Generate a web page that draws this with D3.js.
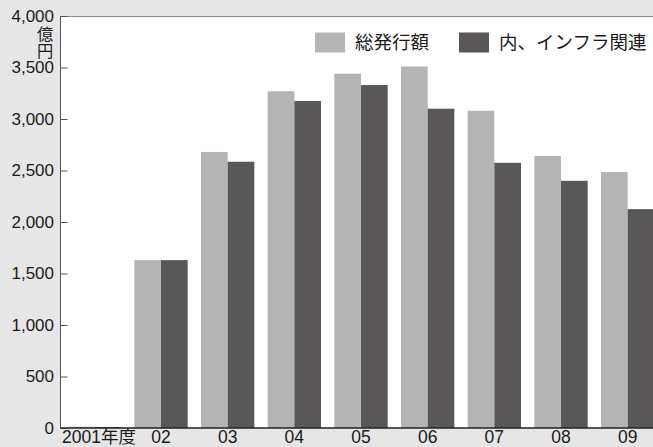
<!DOCTYPE html>
<html>
<head>
<meta charset="utf-8">
<script src="https://cdn.jsdelivr.net/npm/d3@7"></script>
<style>
  html, body { margin: 0; padding: 0; background: #e6e6e6; }
  svg { display: block; }
  text { fill: #1a1a1a; }
</style>
</head>
<body>
<svg id="chart" width="653" height="447"></svg>
<script>
// Fiscal years and bond issuance (億円)
const years = ["2001年度", "02", "03", "04", "05", "06", "07", "08", "09"];
const totalIssued = [12, 1630, 2680, 3270, 3440, 3510, 3080, 2640, 2485];
const infraRelated = [10, 1630, 2585, 3175, 3330, 3100, 2575, 2400, 2125];
const seriesNames = ["総発行額", "内、インフラ関連"];
const seriesColors = ["#b4b4b4", "#595757"];
const yTicks = [0, 500, 1000, 1500, 2000, 2500, 3000, 3500, 4000];
const unitLabel = "億円";

const W = 653, H = 447;
const plot = { left: 61, top: 16, bottom: 428, right: 661 };

const svg = d3.select("#chart");
const latin = "'Liberation Sans', Arial, sans-serif";
const cjk = "'Liberation Sans', 'Noto Sans CJK JP', sans-serif";

// plot area
svg.append("rect")
  .attr("x", plot.left).attr("y", plot.top)
  .attr("width", W - plot.left + 2).attr("height", plot.bottom - plot.top)
  .attr("fill", "#fff");

const x = d3.scaleBand()
  .domain(years)
  .range([plot.left, plot.right])
  .paddingInner(0.2)
  .paddingOuter(0.1);

const xs = d3.scaleBand()
  .domain(seriesNames)
  .range([0, x.bandwidth()]);

const y = d3.scaleLinear()
  .domain([0, 4000])
  .range([plot.bottom, plot.top]);

const rows = years.map((yr, i) => ({ yr, vals: [totalIssued[i], infraRelated[i]] }));

// bars
const groups = svg.append("g").selectAll("g")
  .data(rows).join("g")
  .attr("transform", d => `translate(${x(d.yr)},0)`);

groups.selectAll("rect")
  .data(d => d.vals.map((v, k) => ({ v, k })))
  .join("rect")
  .attr("x", d => xs(seriesNames[d.k]))
  .attr("width", xs.bandwidth())
  .attr("y", d => y(d.v))
  .attr("height", d => y(0) - y(d.v))
  .attr("fill", d => seriesColors[d.k]);

// top frame line
svg.append("line")
  .attr("x1", plot.left).attr("x2", W)
  .attr("y1", plot.top + 0.5).attr("y2", plot.top + 0.5)
  .attr("stroke", "#8a8a8a").attr("stroke-width", 1);

// y axis with inward ticks
const yAxis = svg.append("g")
  .attr("transform", `translate(${plot.left - 0.5},0)`)
  .call(d3.axisLeft(y)
    .tickValues(yTicks)
    .tickSize(-7)
    .tickPadding(6.5)
    .tickFormat(d3.format(",")));
yAxis.select(".domain").attr("stroke", "#555").attr("d", `M0,${plot.top}V${plot.bottom}`);
yAxis.selectAll(".tick line").attr("stroke", "#555");
yAxis.selectAll(".tick text")
  .attr("font-family", latin).attr("font-size", 17).attr("fill", "#1a1a1a");

// unit label, written vertically under the top value
svg.append("text")
  .attr("x", 45)
  .attr("y", 26)
  .style("writing-mode", "vertical-rl")
  .style("text-orientation", "upright")
  .attr("text-anchor", "start")
  .attr("font-family", "'Noto Sans CJK JP', sans-serif")
  .attr("font-size", 16.25)
  .text(unitLabel);

// x axis
const xAxis = svg.append("g")
  .attr("transform", `translate(0,${plot.bottom})`)
  .call(d3.axisBottom(x).tickSize(0).tickPadding(3));
xAxis.select(".domain").attr("stroke", "#222").attr("stroke-width", 1.3)
  .attr("d", `M${plot.left - 0.5},0H${W}`);
xAxis.selectAll(".tick text")
  .attr("font-family", cjk).attr("font-size", 17.5).attr("fill", "#1a1a1a")
  .filter((d, i) => i === 0)
  .attr("text-anchor", "start")
  .attr("x", -x.bandwidth() / 2 - x.step() * x.paddingOuter() + 1);

// legend
const legend = svg.append("g");
const legendX = [315, 459];
seriesNames.forEach((name, k) => {
  legend.append("rect")
    .attr("x", legendX[k]).attr("y", 32.5)
    .attr("width", 30).attr("height", 20)
    .attr("fill", seriesColors[k]);
  legend.append("text")
    .attr("x", legendX[k] + 40).attr("y", 42.5)
    .attr("dy", "0.35em")
    .attr("font-family", "'Noto Sans CJK JP', sans-serif")
    .attr("font-size", 18.5)
    .text(name);
});
</script>
</body>
</html>
